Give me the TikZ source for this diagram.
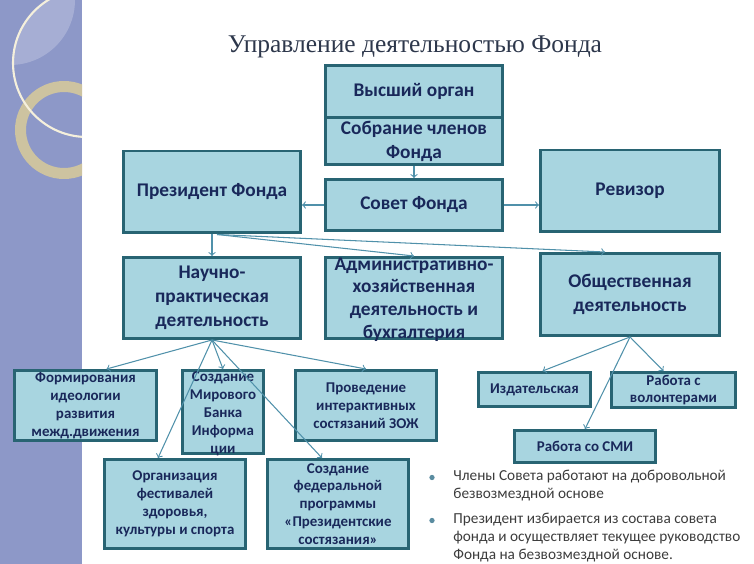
\documentclass[tikz,border=0pt]{standalone}
\usepackage{fontspec}
\setmainfont{Carlito}
\newfontfamily\zagfont{Liberation Serif}
\usepackage{tikz}
\usetikzlibrary{arrows,shapes,calc,positioning}
\definecolor{polosa}{RGB}{141,152,200}
\definecolor{zalivka}{RGB}{168,213,224}
\definecolor{ramka}{RGB}{40,100,115}
\definecolor{sinij}{RGB}{25,40,90}
\definecolor{strelkaCol}{RGB}{80,145,170}
\definecolor{zagCol}{RGB}{45,55,75}
\definecolor{tekstSeryj}{RGB}{60,60,60}
\definecolor{pulyaCol}{RGB}{90,140,160}
\definecolor{pesok}{RGB}{205,195,160}
\definecolor{kolco}{RGB}{245,240,220}
\newcommand{\krupno}{\fontsize{11}{13.5}\selectfont\bfseries}
\newcommand{\melko}{\fontsize{8.5}{10.2}\selectfont\bfseries}
\tikzstyle{blok}   =[rectangle, draw=ramka, fill=zalivka, line width=1.7pt,
                     text=sinij, align=center, inner sep=0pt, font=\krupno]
\tikzstyle{blokmal}=[blok, font=\melko]
\tikzstyle{tekst}  =[text=sinij, align=center, inner sep=0pt]
\tikzstyle{strelka}=[->, >=to, draw=strelkaCol, line width=0.6pt]
\tikzstyle{zametka}=[text=tekstSeryj, align=left, inner sep=0pt, anchor=north west,
                     font=\fontsize{8.7}{10.3}\selectfont]

\begin{document}
\begin{tikzpicture}[x=0.02cm, y=-0.02cm]
    \useasboundingbox (0,0) rectangle (754,564);

    % left strip with rings
    \begin{scope}
        \clip (0,0) rectangle (82,564);
        \fill[polosa] (0,0) rectangle (82,564);
        \begin{scope}
            \clip (87,63) circle (1.48cm);
            \fill[white, opacity=0.22] (10,0) circle (1.3cm);
        \end{scope}
        \draw[pesok, line width=0.22cm] (64,130) circle (0.87cm);
        \draw[kolco, line width=1.2pt] (87,63) circle (1.48cm);
    \end{scope}

    \draw (415,47) node (zag) [text=zagCol, font=\zagfont\fontsize{14.5}{17}\selectfont] {Управление деятельностью Фонда};

    % top
    \draw (414,91.75) node (vysh) [blok, minimum width=3.54cm, minimum height=1.05cm] {Высший орган};
    \draw (414,141.25) node (sobr) [blok, minimum width=3.54cm, minimum height=0.93cm] {Собрание членов\\Фонда};
    \draw (414,205) node (sovet) [blok, minimum width=3.54cm, minimum height=1.02cm] {Совет Фонда};
    \draw (212,192) node (prez) [blok, minimum width=3.54cm, minimum height=1.64cm] {Президент Фонда};
    \draw (630,191) node (reviz) [blok, minimum width=3.58cm, minimum height=1.64cm] {Ревизор};

    % second row
    \draw (212,298) node (nauch) [blok, minimum width=3.54cm, minimum height=1.62cm] {Научно-\\практическая\\деятельность};
    \draw (414,298) node (admin) [blok, minimum width=3.54cm, minimum height=1.62cm] {};
    \draw (414,299.5) node (admintxt) [tekst, font=\fontsize{11}{12.9}\selectfont\bfseries] {Административно-\\хозяйственная\\деятельность и\\бухгалтерия};
    \draw (630,294.5) node (obsch) [blok, minimum width=3.58cm, minimum height=1.64cm] {Общественная\\деятельность};

    % small boxes
    \draw (85.5,405.5) node (form) [blokmal, minimum width=2.84cm, minimum height=1.40cm] {Формирования\\идеологии\\развития\\межд.движения};
    \draw (223,412) node (mir) [blokmal, minimum width=1.62cm, minimum height=1.66cm] {};
    \draw (223,413.5) node (mirtxt) [tekst, font=\melko] {Создание\\Мирового\\Банка\\Информа\\ции};
    \draw (366,405.5) node (prov) [blokmal, minimum width=2.82cm, minimum height=1.40cm] {Проведение\\интерактивных\\состязаний  ЗОЖ};
    \draw (175,504) node (org) [blokmal, minimum width=2.82cm, minimum height=1.78cm] {Организация\\фестивалей\\здоровья,\\культуры и спорта};
    \draw (338,504) node (fed) [blokmal, minimum width=2.82cm, minimum height=1.78cm] {Создание\\федеральной\\программы\\«Президентские\\состязания»};
    \draw (534.5,389.5) node (izd) [blokmal, minimum width=2.24cm, minimum height=0.68cm] {Издательская};
    \draw (673.5,390) node (volon) [blokmal, minimum width=2.48cm, minimum height=0.70cm] {Работа с\\волонтерами};
    \draw (585,446.5) node (smi) [blokmal, minimum width=2.82cm, minimum height=0.64cm] {Работа со СМИ};

    % notes
    \draw (453,470) node (note1) [zametka] {Члены Совета работают на добровольной\\безвозмездной основе};
    \draw (453,513) node (note2) [zametka] {Президент избирается из состава совета\\фонда и осуществляет текущее руководство\\Фонда на безвозмездной основе.};
    \foreach \n in {note1,note2}
        \fill[pulyaCol] ($(\n.north west)+(-21,7.5)$) circle (1.5pt);

    % arrows
    \coordinate (pz) at ($(prez.south)+(5,0)$);
    \coordinate (cobsch) at ($(obsch.north)+(-25,0)$);
    \coordinate (cform) at ($(form.north)+(21,0)$);
    \coordinate (corg) at ($(org.north)+(-17,0)$);
    \coordinate (cfed) at ($(fed.north)+(-16,0)$);
    \coordinate (cizd) at ($(izd.north)+(8,0)$);
    \coordinate (cvol) at ($(volon.north)+(-10,0)$);

    \draw [strelka] (sobr) -- (sovet);
    \draw [strelka] (sovet.west) -- (sovet.west -| prez.east);
    \draw [strelka] (sovet.east) -- (sovet.east -| reviz.west);
    \draw [strelka] (prez) -- (nauch);
    \foreach \j in {admin.north,cobsch}
        \draw [strelka] (pz) -- (\j);
    \foreach \j in {cform,mir.north,corg,cfed,prov.north}
        \draw [strelka] (nauch.south) -- (\j);
    \foreach \j in {cizd,cvol,smi.north}
        \draw [strelka] (obsch.south) -- (\j);
\end{tikzpicture}
\end{document}
